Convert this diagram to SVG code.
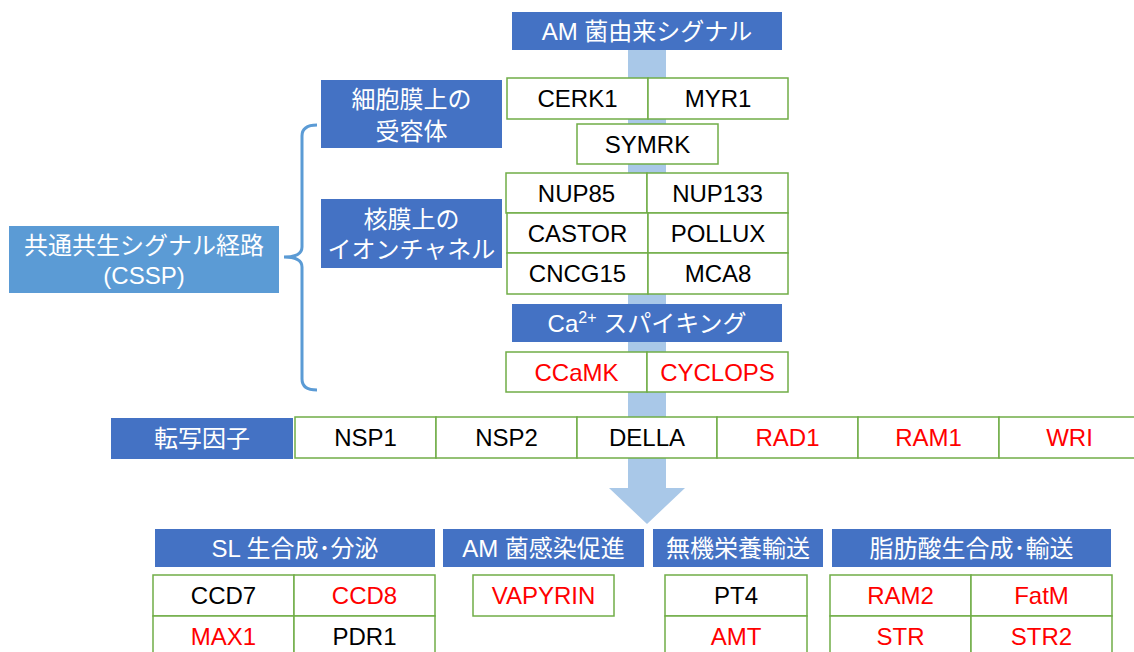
<svg xmlns="http://www.w3.org/2000/svg" width="1134" height="652" viewBox="0 0 1134 652">
<style>
text{font-family:"Liberation Sans","Noto Sans CJK JP",sans-serif;font-size:24px;text-anchor:middle}
.hd{fill:#4472C4}
.cs{fill:#5B9BD5}
.w{fill:#FFFFFF}
.bx{fill:#FFFFFF;stroke:#70AD47;stroke-width:1.5}
.k{fill:#000000}
.r{fill:#FF0000}
</style>
<rect width="1134" height="652" fill="#FFFFFF"/>
<g id="connectors">
<polygon points="628,50 666,50 666,488 685,488 647,524 609,488 628,488" fill="#A9C8E8"/>
<path d="M317,125 Q302,125 302,136 L302,247 Q302,257 284,257 Q302,257 302,267 L302,379 Q302,390 317,390" fill="none" stroke="#5B9BD5" stroke-width="3"/>
</g>
<g id="am-signal"><rect class="hd" x="512" y="12" width="270" height="38"/><text class="w" x="647" y="40">AM 菌由来シグナル</text></g>
<g id="receptor-label"><rect class="hd" x="321" y="80" width="181" height="68"/><text class="w" x="411.5" y="108">細胞膜上の</text><text class="w" x="411.5" y="140">受容体</text></g>
<g id="cerk1"><rect class="bx" x="507" y="78" width="141" height="41"/><text class="k" x="577.5" y="107">CERK1</text></g>
<g id="myr1"><rect class="bx" x="648" y="78" width="140" height="41"/><text class="k" x="718" y="107">MYR1</text></g>
<g id="symrk"><rect class="bx" x="577" y="124" width="141" height="40"/><text class="k" x="647.5" y="152.5">SYMRK</text></g>
<g id="cssp"><rect class="cs" x="9" y="226" width="270" height="67"/><text class="w" x="144" y="254">共通共生シグナル経路</text><text class="w" x="144" y="284">(CSSP)</text></g>
<g id="channel-label"><rect class="hd" x="321" y="199" width="181" height="69"/><text class="w" x="411.5" y="228">核膜上の</text><text class="w" x="411.5" y="258">イオンチャネル</text></g>
<g id="nup85"><rect class="bx" x="506" y="173" width="141" height="40"/><text class="k" x="576.5" y="201.5">NUP85</text></g>
<g id="nup133"><rect class="bx" x="647" y="173" width="141" height="40"/><text class="k" x="717.5" y="201.5">NUP133</text></g>
<g id="castor"><rect class="bx" x="507" y="213" width="141" height="40"/><text class="k" x="577.5" y="241.5">CASTOR</text></g>
<g id="pollux"><rect class="bx" x="648" y="213" width="140" height="40"/><text class="k" x="718" y="241.5">POLLUX</text></g>
<g id="cncg15"><rect class="bx" x="507" y="253" width="141" height="41"/><text class="k" x="577.5" y="282">CNCG15</text></g>
<g id="mca8"><rect class="bx" x="648" y="253" width="140" height="41"/><text class="k" x="718" y="282">MCA8</text></g>
<g id="ca-spiking"><rect class="hd" x="512" y="304" width="270" height="38"/><text class="w" x="647" y="332">Ca<tspan font-size="16" dy="-9">2+</tspan><tspan dy="9"> スパイキング</tspan></text></g>
<g id="ccamk"><rect class="bx" x="506" y="352" width="141" height="40"/><text class="r" x="576.5" y="380.5">CCaMK</text></g>
<g id="cyclops"><rect class="bx" x="647" y="352" width="141" height="40"/><text class="r" x="717.5" y="380.5">CYCLOPS</text></g>
<g id="tf-label"><rect class="hd" x="111" y="418" width="182" height="41"/><text class="w" x="202" y="447">転写因子</text></g>
<g id="nsp1"><rect class="bx" x="295" y="417" width="141" height="41"/><text class="k" x="365.5" y="446">NSP1</text></g>
<g id="nsp2"><rect class="bx" x="436" y="417" width="141" height="41"/><text class="k" x="506.5" y="446">NSP2</text></g>
<g id="della"><rect class="bx" x="577" y="417" width="140" height="41"/><text class="k" x="647" y="446">DELLA</text></g>
<g id="rad1"><rect class="bx" x="717" y="417" width="141" height="41"/><text class="r" x="787.5" y="446">RAD1</text></g>
<g id="ram1"><rect class="bx" x="858" y="417" width="141" height="41"/><text class="r" x="928.5" y="446">RAM1</text></g>
<g id="wri"><rect class="bx" x="999" y="417" width="141" height="41"/><text class="r" x="1069.5" y="446">WRI</text></g>
<g id="sl-label"><rect class="hd" x="155" y="529" width="280" height="38"/><text class="w" x="295" y="557">SL 生合成･分泌</text></g>
<g id="am-infection-label"><rect class="hd" x="443" y="529" width="201" height="38"/><text class="w" x="543.5" y="557">AM 菌感染促進</text></g>
<g id="nutrient-label"><rect class="hd" x="653" y="529" width="170" height="38"/><text class="w" x="738" y="557">無機栄養輸送</text></g>
<g id="fatty-acid-label"><rect class="hd" x="832" y="529" width="279" height="38"/><text class="w" x="971.5" y="557">脂肪酸生合成･輸送</text></g>
<g id="ccd7"><rect class="bx" x="153" y="575" width="141" height="41"/><text class="k" x="223.5" y="604">CCD7</text></g>
<g id="ccd8"><rect class="bx" x="294" y="575" width="141" height="41"/><text class="r" x="364.5" y="604">CCD8</text></g>
<g id="max1"><rect class="bx" x="153" y="616" width="141" height="41"/><text class="r" x="223.5" y="645">MAX1</text></g>
<g id="pdr1"><rect class="bx" x="294" y="616" width="141" height="41"/><text class="k" x="364.5" y="645">PDR1</text></g>
<g id="vapyrin"><rect class="bx" x="473" y="575" width="141" height="41"/><text class="r" x="543.5" y="604">VAPYRIN</text></g>
<g id="pt4"><rect class="bx" x="665" y="575" width="142" height="41"/><text class="k" x="736" y="604">PT4</text></g>
<g id="amt"><rect class="bx" x="665" y="616" width="142" height="41"/><text class="r" x="736" y="645">AMT</text></g>
<g id="ram2"><rect class="bx" x="830" y="575" width="141" height="41"/><text class="r" x="900.5" y="604">RAM2</text></g>
<g id="fatm"><rect class="bx" x="971" y="575" width="141" height="41"/><text class="r" x="1041.5" y="604">FatM</text></g>
<g id="str"><rect class="bx" x="830" y="616" width="141" height="41"/><text class="r" x="900.5" y="645">STR</text></g>
<g id="str2"><rect class="bx" x="971" y="616" width="141" height="41"/><text class="r" x="1041.5" y="645">STR2</text></g>
</svg>
